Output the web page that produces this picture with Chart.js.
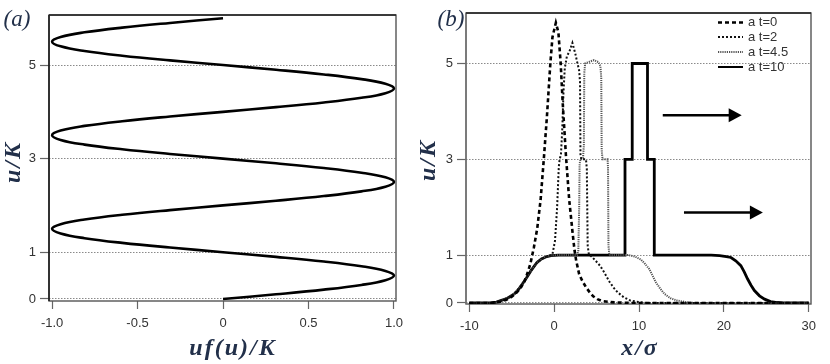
<!DOCTYPE html>
<html><head><meta charset="utf-8">
<script src="https://cdn.jsdelivr.net/npm/chart.js@4.4.1/dist/chart.umd.min.js"></script>
<style>
html,body{margin:0;padding:0;background:#fff;}
#wrap{position:relative;width:830px;height:364px;overflow:hidden;background:#fff;}
.pane{position:absolute;top:0;width:415px;height:364px;}
canvas{display:block;}
</style></head><body>
<div id="wrap">
<div class="pane" style="left:0"><canvas id="ca" width="415" height="364"></canvas></div>
<div class="pane" style="left:415px"><canvas id="cb" width="415" height="364"></canvas></div>
</div>
<script>
// ---------- Panel (a): uf(u)/K versus u/K ----------
const aU = [0,0.1,0.2,0.3,0.4,0.5,0.6,0.7,0.8,0.9,
            1.0,1.1,1.2,1.3,1.4,1.5,1.6,1.7,1.8,1.9,
            2.0,2.1,2.2,2.3,2.4,2.5,2.6,2.7,2.8,2.9,
            3.0,3.1,3.2,3.3,3.4,3.5,3.6,3.7,3.8,3.9,
            4.0,4.1,4.2,4.3,4.4,4.5,4.6,4.7,4.8,4.9,
            5.0,5.1,5.2,5.3,5.4,5.5,5.6,5.7,5.8,5.9,6.0];
const aUF = [0,0.31,0.59,0.81,0.95,1.0,0.95,0.81,0.59,0.31,
             0,-0.31,-0.59,-0.81,-0.95,-1.0,-0.95,-0.81,-0.59,-0.31,
             0,0.31,0.59,0.81,0.95,1.0,0.95,0.81,0.59,0.31,
             0,-0.31,-0.59,-0.81,-0.95,-1.0,-0.95,-0.81,-0.59,-0.31,
             0,0.31,0.59,0.81,0.95,1.0,0.95,0.81,0.59,0.31,
             0,-0.31,-0.59,-0.81,-0.95,-1.0,-0.95,-0.81,-0.59,-0.31,0];
const aXTicks = [-1, -0.5, 0, 0.5, 1];
const aXTickLabels = ['-1.0', '-0.5', '0', '0.5', '1.0'];
const yTicks = [0, 1, 3, 5];
const yTickLabels = ['0', '1', '3', '5'];

// ---------- Panel (b): profiles u/K versus x/sigma ----------
const bXTicks = [-10, 0, 10, 20, 30];
const bXTickLabels = ['-10', '0', '10', '20', '30'];
const seriesLabels = ['a t=0', 'a t=2', 'a t=4.5', 'a t=10'];

const t0X = [-10,-7.5,-6.5,-5.7,-5.0,-4.4,-3.9,-3.5,-3.15,-2.8,-2.4,-2.0,-1.6,-1.2,-0.85,-0.45,-0.2,0.2,0.5,0.77,1.0,1.38,1.77,2.17,2.4,2.6,2.95,3.35,3.75,4.2,4.6,5.1,5.6,6.5,7.5,9,30];
const t0U = [0,0,0.02,0.06,0.13,0.22,0.33,0.45,0.62,0.82,1.15,1.55,2.15,3.05,3.9,5.0,5.55,5.85,5.65,5.0,4.2,3.1,2.16,1.47,1.1,0.88,0.6,0.45,0.33,0.22,0.14,0.08,0.045,0.02,0.01,0,0];

const t2X = [-10,-7,-6.3,-5.5,-4.7,-3.9,-3.5,-2.75,-2.0,-1.2,-0.5,-0.2,0.1,0.35,0.55,0.65,0.8,0.95,1.1,1.25,1.5,1.8,2.15,2.5,2.75,2.95,3.05,3.1,3.2,3.75,3.85,3.95,4.1,4.35,4.8,5.4,5.9,6.5,7.0,7.5,8.2,9.0,10,11,30];
const t2U = [0,0,0.05,0.1,0.19,0.36,0.46,0.67,0.85,0.95,0.99,1.02,1.3,2.0,2.85,3.0,3.1,3.6,4.4,4.9,5.15,5.25,5.43,5.2,5.0,4.85,4.6,3.1,3.0,3.0,2.8,1.2,1.0,0.98,0.9,0.78,0.64,0.45,0.32,0.22,0.12,0.05,0.02,0,0];

const t45X = [-10,-7,-6.3,-5.5,-4.7,-3.9,-3.5,-2.75,-2.0,-1.2,-0.5,0.5,2.7,2.85,2.95,3.0,3.1,3.4,3.5,3.55,3.65,4.2,4.7,5.2,5.45,5.55,5.6,5.7,6.3,6.35,6.4,6.5,8.7,9.5,10.2,10.7,11.2,11.6,12.0,12.5,13.0,13.7,14.5,15.5,16.5,30];
const t45U = [0,0,0.05,0.1,0.19,0.36,0.46,0.67,0.85,0.95,0.99,1.0,1.0,1.1,2.0,2.9,3.0,3.02,3.3,4.8,5.0,5.04,5.07,5.03,4.95,4.7,3.2,3.0,3.0,2.8,1.2,1.0,1.0,0.97,0.91,0.82,0.71,0.57,0.43,0.3,0.19,0.1,0.05,0.02,0,0];

const t10X = [-10,-7.5,-6.8,-6.3,-5.5,-4.7,-4.2,-3.9,-3.5,-3.1,-2.75,-2.3,-2.0,-1.5,-1.0,-0.4,0.5,8.35,8.35,9.2,9.2,11.0,11.0,11.8,11.8,18.5,19.5,20.3,20.84,21.4,22.0,22.4,22.8,23.2,23.6,24.2,24.8,25.5,26.3,27,30];
const t10U = [0,0,0.02,0.05,0.1,0.19,0.28,0.36,0.46,0.57,0.67,0.78,0.85,0.92,0.96,0.99,1.0,1.0,3.0,3.0,5.0,5.0,3.0,3.0,1.0,1.0,0.99,0.97,0.95,0.88,0.78,0.65,0.5,0.37,0.26,0.15,0.08,0.03,0.01,0,0];

// arrows (data coordinates: start x, end x, level u)
const arrowStartX = [12.8, 15.3];
const arrowEndX = [22.1, 24.6];
const arrowU = [3.92, 1.89];

const pts = (xs, ys) => xs.map((x, i) => ({x: x, y: ys[i]}));

const TITLE_FONT = 'italic bold 24px "Liberation Serif"';
const TITLE_COLOR = '#22304a';
const TICK_FONT = {family: 'Liberation Sans', size: 13};

function decorPlugin(cfg) {
  return {
    id: 'decor',
    beforeDatasetsDraw(chart) {
      const {ctx, chartArea: a} = chart;
      ctx.save();
      ctx.strokeStyle = '#555';
      ctx.lineWidth = 1.4;
      ctx.strokeRect(a.left, a.top, a.right - a.left, a.bottom - a.top);
      ctx.strokeStyle = cfg.leftColor;
      ctx.beginPath(); ctx.moveTo(a.left, a.top); ctx.lineTo(a.left, a.bottom); ctx.stroke();
      ctx.strokeStyle = '#222';
      ctx.beginPath(); ctx.moveTo(a.left, a.top); ctx.lineTo(a.right, a.top); ctx.stroke();
      ctx.restore();
    },
    afterDraw(chart) {
      const ctx = chart.ctx;
      ctx.save();
      ctx.fillStyle = TITLE_COLOR;
      ctx.textAlign = 'center';
      ctx.textBaseline = 'middle';
      ctx.font = 'italic 23px "Liberation Serif"';
      ctx.fillText(cfg.panel, cfg.panelPos[0], cfg.panelPos[1]);
      ctx.font = TITLE_FONT;
      try { ctx.letterSpacing = '2px'; } catch (e) {}
      ctx.fillText(cfg.xTitle, cfg.xTitlePos[0], cfg.xTitlePos[1]);
      ctx.save();
      ctx.translate(cfg.yTitlePos[0], cfg.yTitlePos[1]);
      ctx.rotate(-Math.PI / 2);
      ctx.fillText(cfg.yTitle, 0, 0);
      ctx.restore();
      ctx.restore();
    }
  };
}

function yScale(min, max, width) {
  return {
    type: 'linear', min: min, max: max,
    afterBuildTicks(s) { s.ticks = yTicks.map(v => ({value: v})); },
    afterFit(s) { s.width = width; },
    grid: {color: '#8a8a8a', lineWidth: 1, drawTicks: true, tickLength: 9, tickColor: '#666', tickWidth: 1.2},
    border: {display: false, dash: [1.5, 1.5]},
    ticks: {padding: 4, color: '#333', font: TICK_FONT, autoSkip: false,
            callback: (v) => { const i = yTicks.indexOf(v); return i >= 0 ? yTickLabels[i] : ''; }}
  };
}

function xScale(min, max, height, tickVals, tickLabels) {
  return {
    type: 'linear', min: min, max: max,
    afterBuildTicks(s) { s.ticks = tickVals.map(v => ({value: v})); },
    afterFit(s) { s.height = height; },
    grid: {drawOnChartArea: false, drawTicks: true, tickLength: 8, tickColor: '#666', tickWidth: 1.2},
    border: {display: false},
    ticks: {padding: 7, color: '#333', font: TICK_FONT, autoSkip: false, maxRotation: 0,
            callback: (v) => { const i = tickVals.indexOf(v); return i >= 0 ? tickLabels[i] : ''; }}
  };
}

// Chart (a)
new Chart(document.getElementById('ca'), {
  type: 'scatter',
  data: {datasets: [{
    data: pts(aUF, aU), showLine: true, borderColor: '#000', borderWidth: 2.6,
    pointRadius: 0, tension: 0.4, fill: false
  }]},
  options: {
    responsive: false, animation: false, events: [],
    layout: {padding: {left: 0, top: 15, right: 19, bottom: 0}},
    plugins: {legend: {display: false}, tooltip: {enabled: false}},
    scales: {
      x: xScale(-1.018, 1.012, 63, aXTicks, aXTickLabels),
      y: yScale(-0.043, 6.07, 49)
    }
  },
  plugins: [decorPlugin({panel: '(a)', panelPos: [17, 20], xTitle: 'uf(u)/K', xTitlePos: [233, 349],
                         yTitle: 'u/K', yTitlePos: [14, 162], leftColor: '#111'})]
});

// Chart (b)
const bStyles = [
  {color: '#000', width: 2.6, dash: [4, 3]},
  {color: '#111', width: 2, dash: [2, 2]},
  {color: '#555', width: 2, dash: [1.2, 1]},
  {color: '#000', width: 2.8, dash: []}
];
const bData = [pts(t0X, t0U), pts(t2X, t2U), pts(t45X, t45U), pts(t10X, t10U)];

const legendPlugin = {
  id: 'legendB',
  afterDatasetsDraw(chart) {
    const {ctx, scales} = chart;
    ctx.save();
    for (let i = 0; i < arrowU.length; i++) {
      const x1 = scales.x.getPixelForValue(arrowStartX[i]);
      const x2 = scales.x.getPixelForValue(arrowEndX[i]);
      const y = scales.y.getPixelForValue(arrowU[i]);
      ctx.strokeStyle = '#000'; ctx.fillStyle = '#000'; ctx.lineWidth = 2.5; ctx.setLineDash([]);
      ctx.beginPath(); ctx.moveTo(x1, y); ctx.lineTo(x2 - 10, y); ctx.stroke();
      ctx.beginPath(); ctx.moveTo(x2, y); ctx.lineTo(x2 - 13, y - 7); ctx.lineTo(x2 - 13, y + 7); ctx.closePath(); ctx.fill();
    }
    const rows = [22.5, 37, 52, 67];
    ctx.font = '13px "Liberation Sans"';
    ctx.textAlign = 'left'; ctx.textBaseline = 'middle';
    chart.data.datasets.forEach((ds, i) => {
      const y = rows[i];
      ctx.strokeStyle = ds.borderColor; ctx.lineWidth = i === 3 ? 2 : ds.borderWidth;
      ctx.setLineDash(ds.borderDash || []);
      ctx.beginPath(); ctx.moveTo(303, y); ctx.lineTo(328, y); ctx.stroke();
      ctx.fillStyle = '#333';
      ctx.fillText(ds.label, 333, y);
    });
    ctx.restore();
  }
};

new Chart(document.getElementById('cb'), {
  type: 'scatter',
  data: {datasets: bData.map((d, i) => ({
    label: seriesLabels[i], data: d, showLine: true,
    borderColor: bStyles[i].color, borderWidth: bStyles[i].width, borderDash: bStyles[i].dash,
    pointRadius: 0, tension: 0, fill: false
  }))},
  options: {
    responsive: false, animation: false, events: [],
    layout: {padding: {left: 0, top: 13, right: 19, bottom: 0}},
    plugins: {legend: {display: false}, tooltip: {enabled: false}},
    scales: {
      x: xScale(-10.39, 30.27, 60, bXTicks, bXTickLabels),
      y: yScale(-0.021, 6.054, 51)
    }
  },
  plugins: [decorPlugin({panel: '(b)', panelPos: [36, 20], xTitle: 'x/σ', xTitlePos: [225, 349],
                         yTitle: 'u/K', yTitlePos: [14, 160], leftColor: '#777'}), legendPlugin]
});
</script>
</body></html>
